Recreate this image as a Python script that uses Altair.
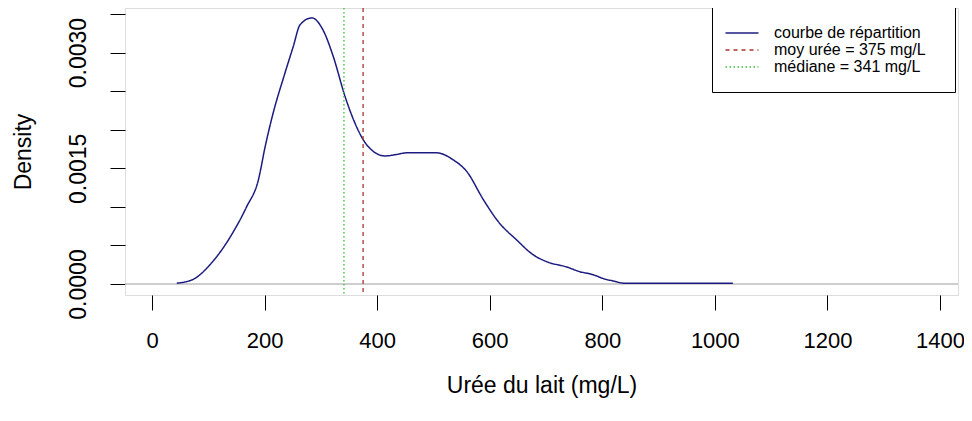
import altair as alt
import pandas as pd

# Density curve
curve_x = [44, 73, 103, 139, 168, 189, 201, 215, 236, 251, 263, 284, 304, 322, 343, 358,
           377, 393, 414, 435, 452, 506, 535, 559, 589, 615, 648, 677, 701, 737, 760, 784,
           802, 819, 840, 940, 1032]
curve_y = [0.00001, 0.00006, 0.00025, 0.00061, 0.00100, 0.00135, 0.00178, 0.00221, 0.00273,
           0.00308, 0.00336, 0.00345, 0.00329, 0.00295, 0.00243, 0.00213, 0.00185, 0.00172,
           0.00166, 0.00168, 0.00170, 0.00170, 0.00161, 0.00146, 0.00109, 0.00081, 0.00057,
           0.00038, 0.00029, 0.00022, 0.00016, 0.00012, 0.00007, 0.00004, 0.00001, 0.00001,
           0.00001]

series_labels = ["courbe de répartition", "moy urée = 375 mg/L", "médiane = 341 mg/L"]
vline_x = [375, 341]
series_colors = ["#1c1c80", "#a83232", "#3cc03c"]
series_dashes = [[1, 0], [4, 4], [1.5, 2.5]]

x_ticks = [0, 200, 400, 600, 800, 1000, 1200, 1400]
y_ticks = [0, 0.0005, 0.0010, 0.0015, 0.0020, 0.0025, 0.0030, 0.0035]

FONT = "Liberation Sans"

curve_df = pd.DataFrame({"x": curve_x, "y": curve_y, "serie": series_labels[0]})
vline_df = pd.DataFrame({"x": vline_x, "serie": series_labels[1:]})
zero_df = pd.DataFrame({"y": [0.0]})

xscale = alt.Scale(domain=[-48, 1432], nice=False, zero=False)
yscale = alt.Scale(domain=[-0.0001426, 0.003578], nice=False, zero=False)

color = alt.Color(
    "serie:N",
    scale=alt.Scale(domain=series_labels, range=series_colors),
    legend=alt.Legend(
        title=None,
        orient="none",
        legendX=587,
        legendY=-1,
        symbolType="M-2,0H2",
        symbolSize=272,
        symbolOffset=4,
        symbolStrokeWidth=1.4,
        labelFontSize=16,
        labelFont=FONT,
        labelColor="black",
        labelOffset=23,
        labelExpr="datum.label + '\u2800'",
        strokeColor="black",
        fillColor="white",
        padding=17,
        rowPadding=0,
        labelLimit=400,
    ),
)
dash = alt.StrokeDash(
    "serie:N",
    scale=alt.Scale(domain=series_labels, range=series_dashes),
    legend=alt.Legend(title=None, orient="none", legendX=587, legendY=-1),
)

x_axis = alt.Axis(
    values=x_ticks, format="d", title="Urée du lait (mg/L)", domain=False, grid=False,
    tickSize=15, tickColor="black", labelFontSize=22, labelFont=FONT, labelColor="black",
    labelPadding=20, titleFontSize=23, titleFont=FONT, titleFontWeight="normal",
    titleColor="black", titlePadding=23, labelOverlap=False, labelFlush=False,
)
y_axis = alt.Axis(
    values=y_ticks, title="Density", domain=False, grid=False,
    tickSize=15, tickColor="black", labelFontSize=23, labelFont=FONT, labelColor="black",
    labelAngle=270, labelAlign="center", labelBaseline="bottom", labelPadding=20,
    labelExpr="abs(datum.value*10000 - round(datum.value*10000/15)*15) < 0.01 ? format(datum.value, '.4f') : ''",
    titleFontSize=23, titleFont=FONT, titleFontWeight="normal", titleColor="black",
    titlePadding=32, labelOverlap=False, labelFlush=False,
)

zero = alt.Chart(zero_df).mark_rule(color="#bebebe", strokeWidth=1.3).encode(
    y=alt.Y("y:Q", scale=yscale, axis=y_axis)
)
curve = alt.Chart(curve_df).mark_line(strokeWidth=1.5, interpolate="monotone").encode(
    x=alt.X("x:Q", scale=xscale, axis=x_axis),
    y=alt.Y("y:Q", scale=yscale),
    color=color,
    strokeDash=dash,
)
vlines = alt.Chart(vline_df).mark_rule(strokeWidth=1.3).encode(
    x=alt.X("x:Q", scale=xscale),
    color=color,
    strokeDash=dash,
)

chart = (
    alt.layer(zero, curve, vlines)
    .properties(
        width=833, height=287,
        autosize=alt.AutoSizeParams(type="none"),
        padding={"left": 117, "top": 0, "right": 6, "bottom": 118},
    )
    .configure_view(stroke="black", strokeWidth=1)
    .configure(background="white")
)

chart.save("out.html", embed_options={"renderer": "svg", "actions": False})
